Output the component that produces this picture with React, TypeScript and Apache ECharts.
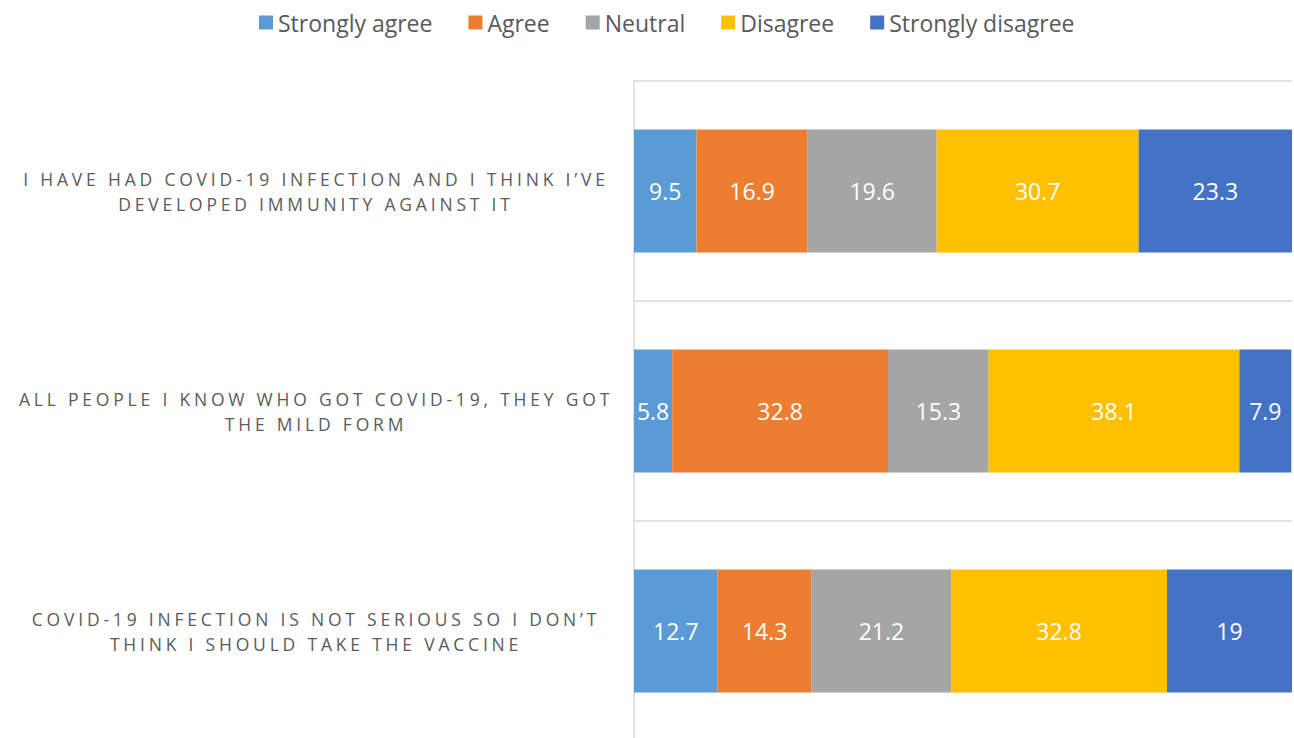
import React, { useEffect, useRef } from "react";
import * as echarts from "echarts";

const categories = [
  "I HAVE HAD COVID-19 INFECTION AND I THINK I’VE\nDEVELOPED IMMUNITY AGAINST IT",
  "ALL PEOPLE I KNOW WHO GOT COVID-19, THEY GOT\nTHE MILD FORM",
  "COVID-19 INFECTION IS NOT SERIOUS SO I DON’T\nTHINK I SHOULD TAKE THE VACCINE",
];

const seriesNames = ["Strongly agree", "Agree", "Neutral", "Disagree", "Strongly disagree"];
const stronglyAgree = [9.5, 5.8, 12.7];
const agree = [16.9, 32.8, 14.3];
const neutral = [19.6, 15.3, 21.2];
const disagree = [30.7, 38.1, 32.8];
const stronglyDisagree = [23.3, 7.9, 19];
const colors = ["#5B9BD5", "#ED7D31", "#A5A5A5", "#FFC000", "#4472C4"];

const AXIS_LABEL_COLOR = "#5b5b5b";

export default function App() {
  const ref = useRef<HTMLDivElement>(null);
  useEffect(() => {
    if (!ref.current) return;
    const chart = echarts.init(ref.current, undefined, { renderer: "svg" });
    const values = [stronglyAgree, agree, neutral, disagree, stronglyDisagree];
    const labelStyle = {
      color: AXIS_LABEL_COLOR,
      fontSize: 17.5,
      fontFamily: "Open Sans",
      align: "center",
      lineHeight: 25,
    };
    chart.setOption({
      animation: false,
      textStyle: { fontFamily: "Open Sans" },
      legend: {
        top: 6,
        left: 254,
        itemWidth: 14,
        itemHeight: 14,
        itemGap: 36,
        icon: "rect",
        textStyle: { fontSize: 23, color: "#595959", fontFamily: "Open Sans" },
        data: seriesNames,
      },
      grid: { left: 634, right: 2, top: 81, bottom: -3, containLabel: false, outerBoundsMode: "none" },
      xAxis: {
        type: "value",
        min: 0,
        max: 100,
        show: false,
      },
      yAxis: {
        type: "category",
        inverse: true,
        data: categories.map((c) => ({ value: c, textStyle: { ...labelStyle } })),
        axisLine: { show: true, lineStyle: { color: "#d9d9d9", width: 1.5 } },
        axisTick: { show: false },
        splitLine: { show: true, lineStyle: { color: "#d9d9d9", width: 1.5 } },
        axisLabel: {
          ...labelStyle,
          margin: 318,
        },
      },
      series: seriesNames.map((name, i) => ({
        name,
        type: "bar",
        stack: "total",
        barWidth: 123,
        data: values[i],
        itemStyle: { color: colors[i] },
        label: {
          show: true,
          position: "inside",
          color: "#ffffff",
          fontSize: 23,
          fontFamily: "Open Sans",
          formatter: (p: any) => String(p.value),
        },
      })),
    });
    return () => chart.dispose();
  }, []);
  return (
    <>
      <style>{`text[fill="${AXIS_LABEL_COLOR}"]{letter-spacing:3.8px;}`}</style>
      <div
        ref={ref}
        style={{ position: "fixed", left: 0, top: 0, width: 1294, height: 738, background: "#ffffff" }}
      />
    </>
  );
}
